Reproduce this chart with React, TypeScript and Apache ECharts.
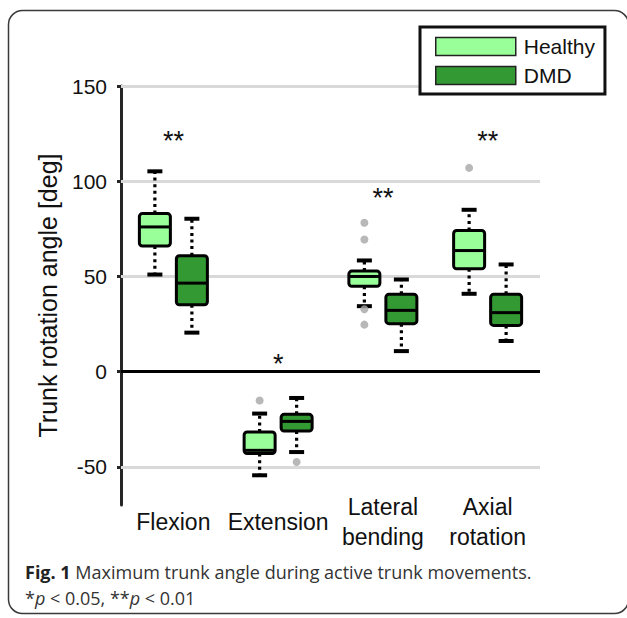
import React, { useEffect, useRef } from 'react';
import * as echarts from 'echarts';

const categories = ['Flexion', 'Extension', 'Lateral\nbending', 'Axial\nrotation'];
// [min, Q1, median, Q3, max]
const healthyBoxes = [
  [51, 66, 76, 83, 105.2],
  [-54.4, -43, -41.3, -31.7, -22],
  [34.4, 44.8, 50, 52.8, 58.4],
  [40.9, 54, 63.6, 74.1, 85],
];
const dmdBoxes = [
  [20.5, 35.1, 46.5, 60.9, 80.3],
  [-42.2, -31.2, -26.1, -22.4, -13.8],
  [10.8, 25.2, 32.2, 40.6, 48.4],
  [16.1, 24.3, 31, 40.6, 56.3],
];
const healthyOutliers = [[1, -15.1], [2, 78.2], [2, 69.4], [2, 32.8], [2, 24.7], [3, 107]];
const dmdOutliers = [[1, -47.4]];
const significance = ['**', '*', '**', '**'];
const significanceY = [121, 4, 91, 121];
const yTicks = [-50, 0, 50, 100, 150];
const gridValues = [-50, 50, 100, 150];

const HEALTHY = '#99FF99';
const DMD = '#339933';
const FONT = '"Liberation Sans", Arial, sans-serif';
const CAP_FONT = '"Open Sans", sans-serif';
const OFFSET = 18.5;

function makeBoxRender(offset: number, fill: string) {
  return (params: any, api: any) => {
    const i = api.value(0);
    const mn = api.value(1), q1 = api.value(2), md = api.value(3), q3 = api.value(4), mx = api.value(5);
    const c = (v: number) => api.coord([i, v]);
    const x = c(md)[0] + offset;
    const yMin = c(mn)[1], yQ1 = c(q1)[1], yMd = c(md)[1], yQ3 = c(q3)[1], yMax = c(mx)[1];
    const hw = 15.5, cw = 7.5;
    const dash = { stroke: '#000', lineWidth: 3.2, lineDash: [3, 3.6] };
    return {
      type: 'group',
      children: [
        { type: 'line', shape: { x1: x, y1: yQ3, x2: x, y2: yMax }, style: dash },
        { type: 'line', shape: { x1: x, y1: yQ1, x2: x, y2: yMin }, style: dash },
        { type: 'line', shape: { x1: x - cw, y1: yMax, x2: x + cw, y2: yMax }, style: { stroke: '#000', lineWidth: 4 } },
        { type: 'line', shape: { x1: x - cw, y1: yMin, x2: x + cw, y2: yMin }, style: { stroke: '#000', lineWidth: 4 } },
        { type: 'rect', shape: { x: x - hw, y: yQ3, width: 2 * hw, height: yQ1 - yQ3, r: 3 }, style: { fill, stroke: '#000', lineWidth: 3 } },
        { type: 'line', shape: { x1: x - hw, y1: yMd, x2: x + hw, y2: yMd }, style: { stroke: '#000', lineWidth: 3 } },
      ],
    };
  };
}

export default function App() {
  const ref = useRef<HTMLDivElement>(null);
  useEffect(() => {
    if (!ref.current) return;
    const chart = echarts.init(ref.current, null, { renderer: 'svg' });
    const option: any = {
      animation: false,
      grid: { left: 121, right: 87, top: 86, bottom: 113 },
      legend: {
        left: 420,
        top: 27,
        orient: 'vertical',
        z: 20,
        backgroundColor: '#fff',
        borderColor: '#111',
        borderWidth: 3,
        padding: [9, 10, 8, 15],
        itemGap: 8,
        itemWidth: 80,
        itemHeight: 18,
        textStyle: { fontSize: 21, color: '#111', fontFamily: FONT, padding: [0, 0, 0, 3] },
        data: [
          { name: 'Healthy', icon: 'rect', itemStyle: { color: HEALTHY, borderColor: '#222', borderWidth: 1.5 } },
          { name: 'DMD', icon: 'rect', itemStyle: { color: DMD, borderColor: '#222', borderWidth: 1.5 } },
        ],
        selectedMode: false,
      },
      xAxis: {
        type: 'category',
        data: categories,
        axisLine: { show: false },
        axisTick: { show: false },
        splitLine: { show: false },
        axisLabel: { interval: 0, fontSize: 23, color: '#111', fontFamily: FONT, margin: 17, verticalAlign: 'middle', lineHeight: 30 },
      },
      yAxis: {
        type: 'value',
        min: -70,
        max: 150,
        name: 'Trunk rotation angle [deg]',
        nameLocation: 'middle',
        nameGap: 61,
        nameTextStyle: { fontSize: 25, color: '#111', fontFamily: FONT },
        axisLine: { show: true, lineStyle: { color: '#262626', width: 3 } },
        axisTick: { show: true, customValues: yTicks, length: 4, lineStyle: { color: '#262626', width: 3 } },
        axisLabel: { customValues: yTicks, fontSize: 21, color: '#111', fontFamily: FONT, margin: 14 },
        splitLine: { show: false },
      },
      series: [
        {
          name: 'Healthy',
          type: 'custom',
          z: 10,
          itemStyle: { color: HEALTHY },
          renderItem: makeBoxRender(-OFFSET, HEALTHY),
          encode: { x: 0, y: [1, 2, 3, 4, 5] },
          data: healthyBoxes.map((b, i) => [i, ...b]),
          markLine: {
            silent: true,
            symbol: 'none',
            label: { show: false },
            lineStyle: { color: '#D9D9D9', width: 3, type: 'solid' },
            data: [
              ...gridValues.map((v) => ({ yAxis: v })),
              { yAxis: 0, lineStyle: { color: '#000', width: 3, type: 'solid' } },
            ],
          },
        },
        {
          name: 'DMD',
          type: 'custom',
          z: 10,
          itemStyle: { color: DMD },
          renderItem: makeBoxRender(OFFSET, DMD),
          encode: { x: 0, y: [1, 2, 3, 4, 5] },
          data: dmdBoxes.map((b, i) => [i, ...b]),
        },
        {
          name: 'Healthy outliers',
          type: 'scatter',
          z: 11,
          symbolSize: 8,
          symbolOffset: [-OFFSET, 0],
          itemStyle: { color: '#A6A6A6' },
          data: healthyOutliers,
        },
        {
          name: 'DMD outliers',
          type: 'scatter',
          z: 11,
          symbolSize: 8,
          symbolOffset: [OFFSET, 0],
          itemStyle: { color: '#A6A6A6' },
          data: dmdOutliers,
        },
        {
          name: 'Significance',
          type: 'custom',
          z: 12,
          renderItem: (params: any, api: any) => {
            const p = api.coord([api.value(0), api.value(1)]);
            return {
              type: 'text',
              x: p[0],
              y: p[1],
              style: { text: significance[params.dataIndex], fontSize: 27, fontFamily: FONT, fill: '#111', align: 'center', verticalAlign: 'middle' },
            };
          },
          encode: { x: 0, y: 1 },
          data: significanceY.map((v, i) => [i, v]),
        },
      ],
      graphic: [
        {
          type: 'rect',
          z: 0,
          shape: { x: 8.5, y: 10.5, width: 620, height: 603, r: 14 },
          style: { fill: 'none', stroke: '#3a3a3a', lineWidth: 1.5 },
        },
        {
          type: 'text',
          x: 25,
          y: 572,
          style: {
            text: '{b|Fig. 1} Maximum trunk angle during active trunk movements.',
            fontSize: 18,
            lineHeight: 20,
            fontFamily: CAP_FONT,
            fill: '#333',
            verticalAlign: 'middle',
            rich: {
              b: { fontSize: 18, lineHeight: 20, fontFamily: CAP_FONT, fontWeight: 'bold', fill: '#222' },
            },
          },
        },
        {
          type: 'text',
          x: 25,
          y: 598,
          style: {
            text: '*{i|p} < 0.05, **{i|p} < 0.01',
            fontSize: 18,
            lineHeight: 20,
            fontFamily: CAP_FONT,
            fill: '#333',
            verticalAlign: 'middle',
            rich: {
              i: { fontSize: 18, lineHeight: 20, fontFamily: CAP_FONT, fontStyle: 'italic', fill: '#333' },
            },
          },
        },
      ],
    };
    chart.setOption(option);
    return () => chart.dispose();
  }, []);
  return <div ref={ref} style={{ position: 'fixed', left: 0, top: 0, width: 627, height: 618, background: '#fff' }} />;
}
